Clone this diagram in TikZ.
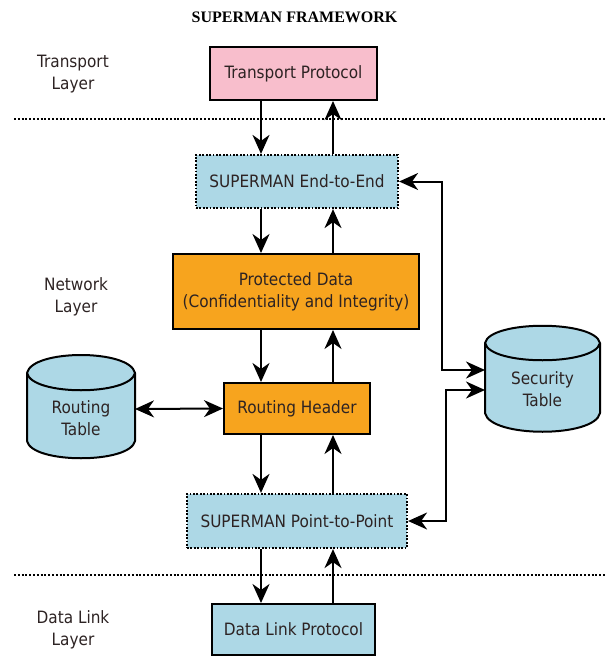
\documentclass[tikz,border=0pt]{standalone}
\usepackage{fontspec}
\setmainfont{DejaVu Sans Condensed}
\newfontfamily\titlefont{Liberation Serif}
\usetikzlibrary{arrows.meta}
\definecolor{pinkfill}{RGB}{248,190,204}
\definecolor{bluefill}{RGB}{173,216,230}
\definecolor{orangefill}{RGB}{247,164,30}
\definecolor{txt}{RGB}{45,35,35}
\tikzset{
  boxbase/.style={line width=2pt, draw=black, text=txt, align=center, inner sep=0pt,
    font=\fontsize{17}{22}\selectfont},
  solidbox/.style={boxbase},
  dotbox/.style={boxbase, line width=2.2pt, dash pattern=on 1.8pt off 1.6pt},
  arr/.style={line width=2pt, -{Stealth[length=19pt,width=17pt,inset=6pt]}},
  darr/.style={line width=2pt, {Stealth[length=19pt,width=17pt,inset=6pt]}-{Stealth[length=19pt,width=17pt,inset=6pt]}},
  sep/.style={line width=2.2pt, dash pattern=on 2pt off 1.8pt, black},
  layerlabel/.style={align=center, text=txt, font=\fontsize{17}{22}\selectfont},
  cyl/.style={line width=2pt, draw=black, fill=bluefill},
}
\begin{document}
\begin{tikzpicture}[x=1pt,y=-1pt]
\useasboundingbox (0,0) rectangle (606,659);

\node[font=\titlefont\bfseries\fontsize{16}{18}\selectfont, text=black] (title) at (294.5,17) {SUPERMAN FRAMEWORK};

% layer labels
\node[layerlabel] (ltrans) at (73,74) {Transport\\Layer};
\node[layerlabel] (lnet) at (76,297) {Network\\Layer};
\node[layerlabel] (ldl) at (73,629.5) {Data Link\\Layer};

% separators
\coordinate (s1a) at (14,119);
\coordinate (s1b) at (606,119);
\coordinate (s2a) at (14,575);
\coordinate (s2b) at (606,575);
\draw[sep] (s1a) -- (s1b);
\draw[sep] (s2a) -- (s2b);

% boxes
\node[solidbox, fill=pinkfill, minimum width=167pt, minimum height=53pt] (tp) at (293.5,73.5) {Transport Protocol};
\node[dotbox, fill=bluefill, minimum width=202pt, minimum height=53pt] (e2e) at (297,181.5) {SUPERMAN End-to-End};
\node[solidbox, fill=orangefill, minimum width=246pt, minimum height=75pt] (pd) at (296,291.5) {Protected Data\\(Confidentiality and Integrity)};
\node[solidbox, fill=orangefill, minimum width=146pt, minimum height=51pt] (rh) at (297,408.5) {Routing Header};
\node[dotbox, fill=bluefill, minimum width=220pt, minimum height=54pt] (p2p) at (297,521) {SUPERMAN Point-to-Point};
\node[solidbox, fill=bluefill, minimum width=163pt, minimum height=51pt] (dl) at (293.5,629.5) {Data Link Protocol};

% cylinders
\draw[cyl] (27,373) .. controls (32,349) and (130,349) .. (135,373)
  -- (135,441) .. controls (130,464) and (32,464) .. (27,441) -- cycle;
\draw[cyl, fill=none] (27,373) .. controls (32,396) and (130,396) .. (135,373);
\node[layerlabel] (rt) at (81,418) {Routing\\Table};
\coordinate (rtE) at (135,409);

\draw[cyl] (485,343) .. controls (490,320) and (595,320) .. (600,343)
  -- (600,413) .. controls (595,438) and (490,438) .. (485,413) -- cycle;
\draw[cyl, fill=none] (485,343) .. controls (490,366) and (595,366) .. (600,343);
\node[layerlabel] (st) at (542.5,389) {Security\\Table};
\coordinate (stW1) at (485,370);
\coordinate (stW2) at (485,390);

% vertical arrow columns
\coordinate (cl) at (261,0);
\coordinate (cr) at (333,0);
\coordinate (b1) at (442,0);
\coordinate (b2) at (446,0);

\draw[arr] (tp.south -| cl) -- (e2e.north -| cl);
\draw[arr] (e2e.north -| cr) -- (tp.south -| cr);
\draw[arr] (e2e.south -| cl) -- (pd.north -| cl);
\draw[arr] (pd.north -| cr) -- (e2e.south -| cr);
\draw[arr] (pd.south -| cl) -- (rh.north -| cl);
\draw[arr] (rh.north -| cr) -- (pd.south -| cr);
\draw[arr] (rh.south -| cl) -- (p2p.north -| cl);
\draw[arr] (p2p.north -| cr) -- (rh.south -| cr);
\draw[arr] (p2p.south -| cl) -- (dl.north -| cl);
\draw[arr] (dl.north -| cr) -- (p2p.south -| cr);

\draw[darr] (rtE) -- (rh.west);
\draw[darr] (e2e.east) -| (b1 |- stW1) -- (stW1);
\draw[darr] (stW2) -| (b2 |- p2p.east) -- (p2p.east);
\end{tikzpicture}
\end{document}
